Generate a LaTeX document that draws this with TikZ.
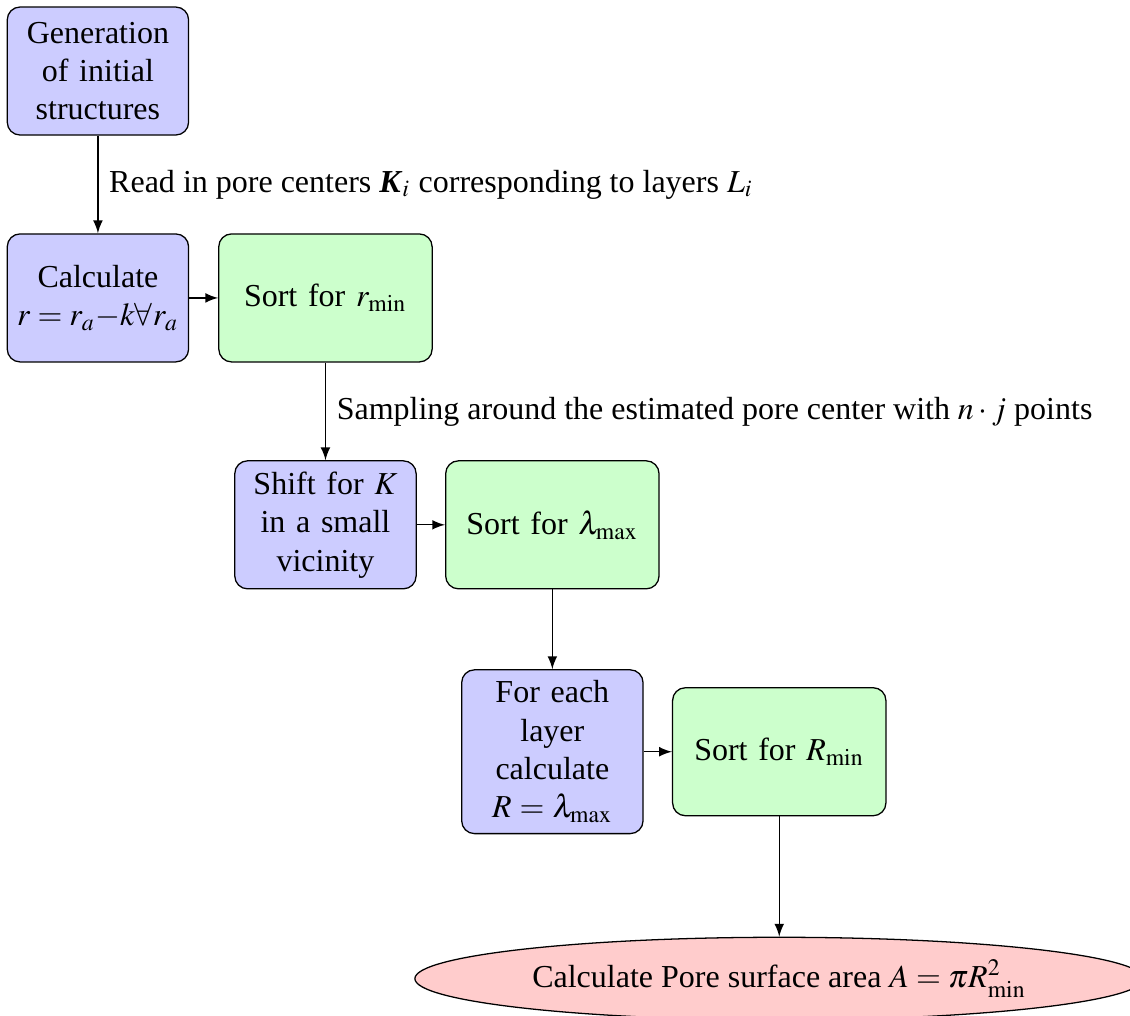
\documentclass[tikz,border=0pt]{standalone}
\usepackage{mathptmx}
\usepackage[no-math]{fontspec}
\setmainfont{Liberation Serif}
\usetikzlibrary{shapes.geometric,arrows}
\begin{document}
\begin{tikzpicture}[
  x=1pt,y=1pt,
  bluebox/.style={rectangle, draw, fill=blue!20, text width=5em, align=center, rounded corners, minimum height=4em},
  greenbox/.style={rectangle, draw, fill=green!20, text width=6em, align=center, rounded corners, minimum height=4em},
  endnode/.style={ellipse, draw, fill=red!20},
  conn/.style={draw, -latex}
]
\useasboundingbox (0,0) rectangle (353.1,-317.2);
\node[bluebox] (gen) at (30.6,-22.2) {Generation of initial structures};
\node[bluebox] (calc) at (30.6,-93.1) {Calculate\\ \makebox[5em][c]{$\medmuskip=0mu\thickmuskip=4mu r=r_a-k\forall r_a$}};
\node[greenbox] (sortr) at (101.7,-93.1) {Sort for $r_{\min}$};
\node[bluebox] (shift) at (101.7,-164.0) {Shift for $K$ in a small vicinity};
\node[greenbox] (sortl) at (172.6,-164.0) {Sort for $\lambda_{\max}$};
\node[bluebox] (each) at (172.6,-234.9) {For each layer calculate $R=\lambda_{\max}$};
\node[greenbox] (sortR) at (243.5,-234.9) {Sort for $R_{\min}$};
\node[endnode] (area) at (243.5,-305.8) {Calculate Pore surface area $A=\pi R_{\min}^2$};
\path[conn] (gen) -- node[right] {Read in pore centers \textbf{\textit{K}}$_i$ corresponding to layers $L_i$} (calc);
\path[conn] (calc) -- (sortr);
\path[conn] (sortr) -- node[right] {Sampling around the estimated pore center with $n\cdot j$ points} (shift);
\path[conn] (shift) -- (sortl);
\path[conn] (sortl) -- (each);
\path[conn] (each) -- (sortR);
\path[conn] (sortR) -- (area);
\end{tikzpicture}
\end{document}
